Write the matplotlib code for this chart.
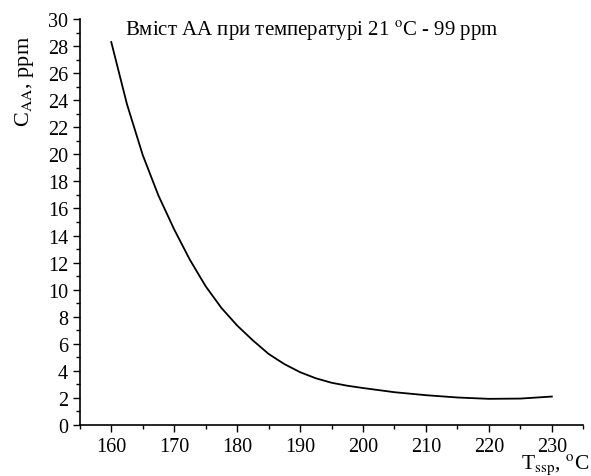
import matplotlib
matplotlib.use("Agg")
import matplotlib.pyplot as plt
from matplotlib.ticker import MultipleLocator

# temperature of solid-state polymerisation, degC
temp = [160, 162.5, 165, 167.5, 170, 172.5, 175, 177.5, 180, 182.5, 185,
        187.5, 190, 192.5, 195, 197.5, 200, 205, 210, 215, 220, 225, 230]
# acetaldehyde content, ppm
c_aa = [28.3, 23.7, 19.95, 16.95, 14.45, 12.2, 10.25, 8.65, 7.35, 6.25, 5.25,
        4.5, 3.9, 3.45, 3.12, 2.9, 2.73, 2.42, 2.2, 2.03, 1.93, 1.95, 2.1]

x_ticks = [160, 170, 180, 190, 200, 210, 220, 230]
y_ticks = list(range(0, 31, 2))

plt.rcParams["font.family"] = ["Liberation Serif", "DejaVu Serif"]
plt.rcParams["mathtext.fontset"] = "stix"

fig = plt.figure(figsize=(5.91, 4.77), dpi=100)
ax = fig.add_axes([0.135, 0.107, 0.852, 0.851])

ax.plot(temp, c_aa, color="black", linewidth=1.3, solid_joinstyle="round")

ax.set_xlim(155, 235)
ax.set_ylim(0, 30)
ax.set_xticks(x_ticks)
ax.set_yticks(y_ticks)
ax.xaxis.set_minor_locator(MultipleLocator(5))
ax.yaxis.set_minor_locator(MultipleLocator(1))
ax.tick_params(which="major", direction="out", length=5, width=1, labelsize=14.5)
ax.tick_params(which="minor", direction="out", length=3, width=1)
ax.spines["top"].set_visible(False)
ax.spines["right"].set_visible(False)
for s in ("left", "bottom"):
    ax.spines[s].set_linewidth(1.2)

fig.text(125 / 591, 1 - 31 / 477, "Вміст АА при температурі 21 $^{\\rm o}$C - 99 ppm",
         fontsize=15, va="center", ha="left")
fig.text(0.042, 0.925, "C$_{\\rm AA}$, ppm", rotation=90, fontsize=16,
         ha="center", va="top")
fig.text(0.882, 0.016, "T$_{\\rm ssp}$, $^{\\rm o}$C", fontsize=15.5,
         ha="left", va="baseline")

fig.savefig("out.png", dpi=100)
